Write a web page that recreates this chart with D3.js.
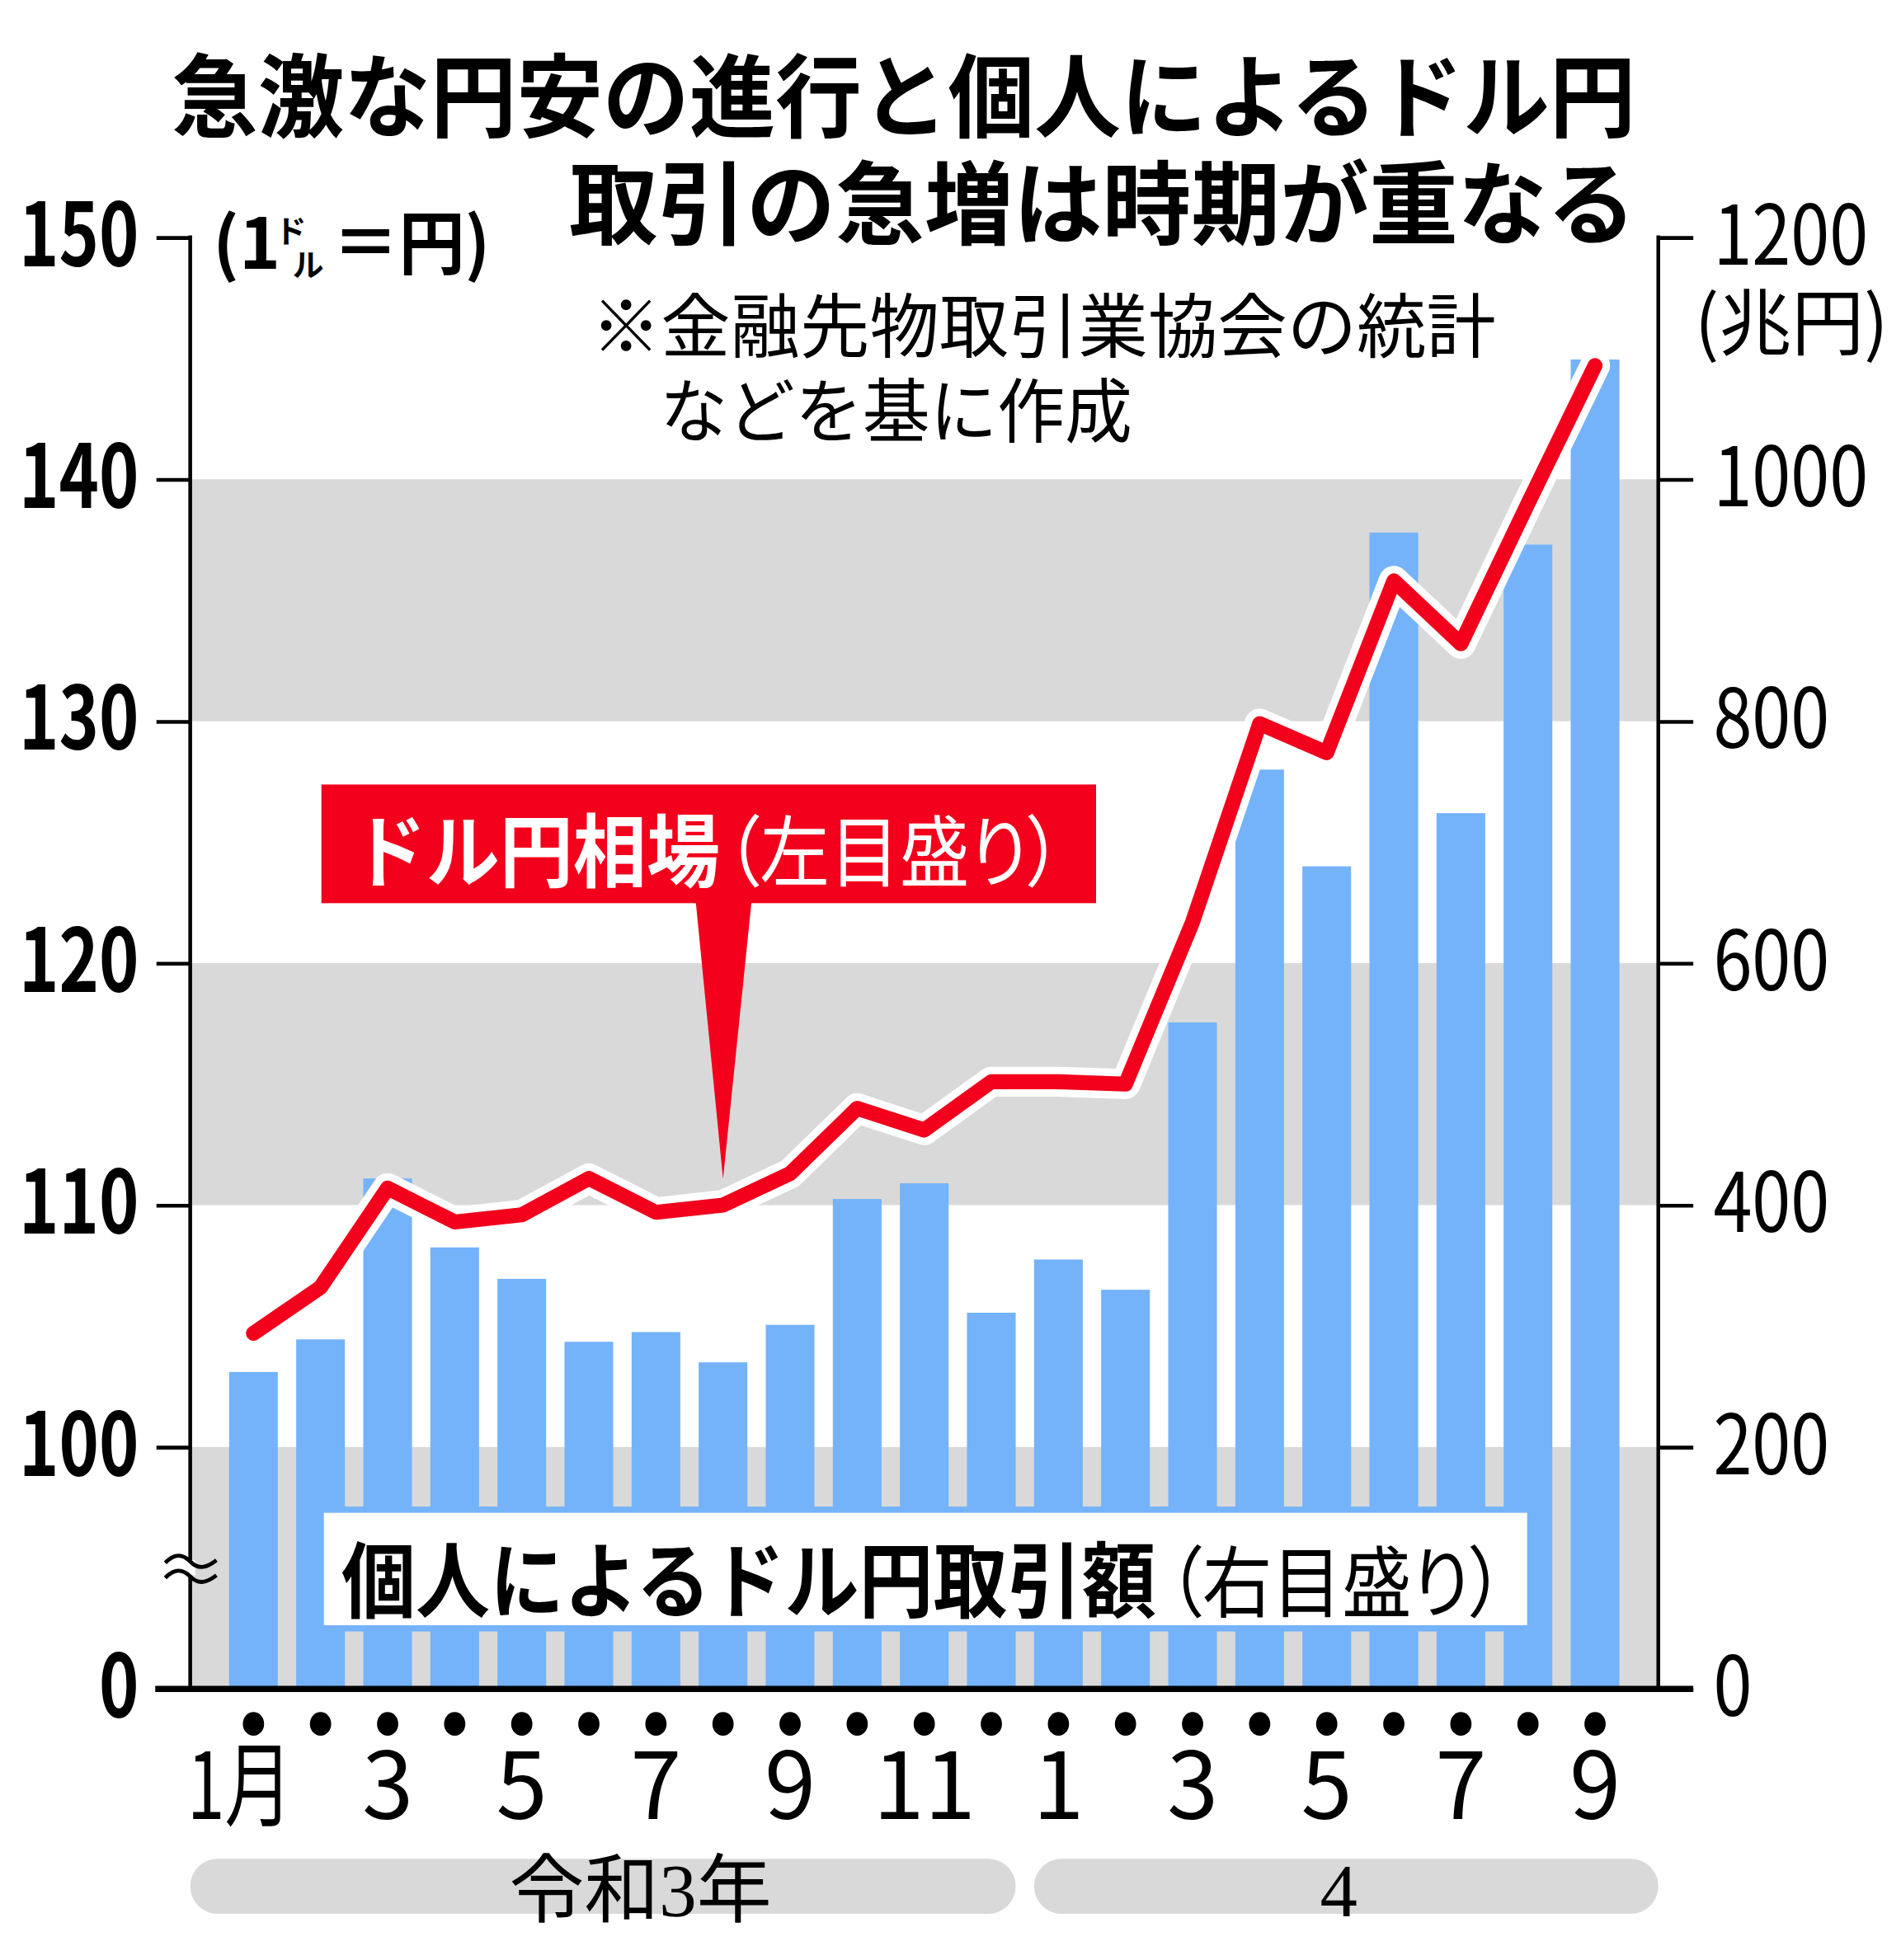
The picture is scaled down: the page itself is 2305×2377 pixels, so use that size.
<!DOCTYPE html>
<html lang="ja"><head>
<meta charset="utf-8">
<title>急激な円安の進行と個人によるドル円取引</title>
<script src="https://cdnjs.cloudflare.com/ajax/libs/d3/7.8.5/d3.min.js"></script>
<style>
  html, body { margin: 0; padding: 0; background: #fff; }
  svg { display: block; }
  .jp { font-family: "Noto Sans CJK JP", sans-serif; }
  .num { font-family: "Liberation Sans Narrow", "Noto Sans CJK JP", sans-serif; }
  .serif { font-family: "Liberation Serif", "Noto Sans CJK JP", serif; }
</style>
</head>
<body>
<svg id="chart"></svg>
<script>

// data
var monthLabels = ["1月","","3","","5","","7","","9","","11","","1","","3","","5","","7","","9"];
// ドル円相場, month-end (yen per dollar, left axis)
var yenRate = [104.7, 106.6, 110.7, 109.3, 109.6, 111.1, 109.7, 110.0, 111.3, 114.0, 113.1,
               115.1, 115.1, 115.0, 121.7, 129.9, 128.7, 135.8, 133.2, 139.0, 144.7];
// 個人によるドル円取引額 (trillion yen, right axis)
var volume = [262, 289, 422, 365, 339, 287, 295, 270, 301, 405, 418,
              311, 355, 330, 551, 760, 680, 956, 724, 946, 1099];
var leftTicks = [150, 140, 130, 120, 110, 100, 90];
var leftTickLabels = ["150", "140", "130", "120", "110", "100", "0"];
var rightTicks = [1200, 1000, 800, 600, 400, 200, 0];
var grayBands = [[130, 140], [110, 120], [90, 100]];
var yearLabels = ["令和3年", "4"];
var yearSpans = [[0, 11], [12, 20]];

var W = 1521, H = 1569;
// plot frame (window.top is reserved, so prefix these)
var pLeft = 152, pRight = 1327, pTop = 190, pBottom = 1352;
var red = "#f2001c", blue = "#74b3fa", gray = "#d9d9d9";

var svg = d3.select("#chart")
    .attr("width", 2305).attr("height", 2377)
    .attr("viewBox", "0 0 " + W + " " + H);

var x = d3.scaleBand().domain(d3.range(volume.length))
    .range([pLeft, pRight]).paddingInner(0.274).paddingOuter(0.58);
var cx = function(i) { return x(i) + x.bandwidth() / 2; };
var yL = d3.scaleLinear().domain([90, 150]).range([pBottom, pTop]);
var yR = d3.scaleLinear().domain([0, 1200]).range([pBottom, pTop]);

// gray bands
svg.append("g").selectAll("rect").data(grayBands).enter().append("rect")
    .attr("x", pLeft).attr("width", pRight - pLeft)
    .attr("y", function(d) { return yL(d[1]); })
    .attr("height", function(d) { return yL(d[0]) - yL(d[1]); })
    .attr("fill", gray);

// bars
svg.append("g").selectAll("rect").data(volume).enter().append("rect")
    .attr("x", function(d, i) { return x(i); })
    .attr("width", x.bandwidth())
    .attr("y", function(d) { return yR(d); })
    .attr("height", function(d) { return yR(0) - yR(d); })
    .attr("fill", blue);

// label box for bars
var bx = 259, by = 1211, bw = 963, bh = 90;
svg.append("rect").attr("x", bx - 5).attr("y", by - 5).attr("width", bw + 10).attr("height", bh + 10).attr("fill", blue);
svg.append("rect").attr("x", bx).attr("y", by).attr("width", bw).attr("height", bh).attr("fill", "#fff");
svg.append("text").attr("class", "jp").attr("x", 273).attr("y", 1290)
    .attr("font-size", 66).attr("font-weight", 700)
    .attr("textLength", 652).attr("lengthAdjust", "spacingAndGlyphs")
    .text("個人によるドル円取引額");
svg.append("text").attr("class", "jp").attr("x", 934).attr("y", 1290)
    .attr("font-size", 62).attr("font-weight", 400)
    .style("font-feature-settings", "'palt'")
    .attr("textLength", 270).attr("lengthAdjust", "spacingAndGlyphs")
    .text("（右目盛り）");

// yen line with white halo
var line = d3.line().x(function(d, i) { return cx(i); }).y(function(d) { return yL(d); });
svg.append("path").datum(yenRate).attr("d", line)
    .attr("fill", "none").attr("stroke", "#fff").attr("stroke-width", 24)
    .attr("stroke-linejoin", "round").attr("stroke-linecap", "round");
svg.append("path").datum(yenRate).attr("d", line)
    .attr("fill", "none").attr("stroke", red).attr("stroke-width", 12)
    .attr("stroke-linejoin", "round").attr("stroke-linecap", "round");

// callout for the line
var tipX = cx(7), tipY = yL(yenRate[7]) - 21;
svg.append("path")
    .attr("d", "M" + (tipX - 22) + ",720L" + (tipX + 23) + ",720L" + tipX + "," + tipY + "Z")
    .attr("fill", red);
svg.append("rect").attr("x", 257).attr("y", 628).attr("width", 620).attr("height", 95).attr("fill", red);
svg.append("text").attr("class", "jp").attr("x", 282).attr("y", 705)
    .attr("font-size", 64).attr("font-weight", 700).attr("fill", "#fff")
    .attr("textLength", 294).attr("lengthAdjust", "spacingAndGlyphs")
    .text("ドル円相場");
svg.append("text").attr("class", "jp").attr("x", 580).attr("y", 705)
    .attr("font-size", 62).attr("font-weight", 400).attr("fill", "#fff")
    .style("font-feature-settings", "'palt'")
    .attr("textLength", 270).attr("lengthAdjust", "spacingAndGlyphs")
    .text("（左目盛り）");

// axes
var axL = svg.append("g").attr("transform", "translate(" + pLeft + ",0)")
    .call(d3.axisLeft(yL).tickValues(leftTicks)
        .tickFormat(function(d, i) { return leftTickLabels[i]; })
        .tickSize(27).tickPadding(14));
var axR = svg.append("g").attr("transform", "translate(" + pRight + ",0)")
    .call(d3.axisRight(yR).tickValues(rightTicks).tickFormat(d3.format("d"))
        .tickSize(28).tickPadding(16));
[axL, axR].forEach(function(g) {
    g.select(".domain").remove();
    g.selectAll(".tick line").attr("stroke", "#000").attr("stroke-width", 3);
    g.selectAll(".tick text").attr("class", "num").attr("fill", "#000")
        .attr("lengthAdjust", "spacingAndGlyphs");
});
axL.selectAll(".tick text").attr("font-size", 70).attr("font-weight", 700)
    .attr("textLength", function() { return this.textContent.length * 32; });
axR.selectAll(".tick text").attr("font-size", 66).attr("font-weight", 400)
    .attr("textLength", function() { return this.textContent.length * 31; });

svg.append("line").attr("x1", pLeft).attr("x2", pLeft).attr("y1", pTop - 1.5).attr("y2", pBottom)
    .attr("stroke", "#000").attr("stroke-width", 3);
svg.append("line").attr("x1", pRight).attr("x2", pRight).attr("y1", pTop - 1.5).attr("y2", pBottom)
    .attr("stroke", "#000").attr("stroke-width", 3);
svg.append("line").attr("x1", pLeft - 28).attr("x2", pRight + 28).attr("y1", pBottom).attr("y2", pBottom)
    .attr("stroke", "#000").attr("stroke-width", 5);

// axis break mark
var brk = svg.append("g");
brk.append("rect").attr("x", pLeft - 4).attr("y", 1249).attr("width", 8).attr("height", 12).attr("fill", "#fff");
[1250, 1262].forEach(function(yy) {
    brk.append("path")
        .attr("d", "M132," + (yy + 1) + "C140," + (yy - 7) + " 146," + (yy - 6) + " 152," + yy +
                   "S164," + (yy + 6) + " 173," + (yy - 1))
        .attr("fill", "none").attr("stroke", "#000").attr("stroke-width", 3.2);
});

// month dots and labels
svg.append("g").selectAll("ellipse").data(volume).enter().append("ellipse")
    .attr("cx", function(d, i) { return cx(i); }).attr("cy", 1380)
    .attr("rx", 8.5).attr("ry", 9.5).attr("fill", "#000");
svg.append("g").selectAll("text").data(monthLabels).enter().append("text")
    .attr("class", "num")
    .attr("x", function(d, i) { return d === "1月" ? cx(i) - 11 : cx(i); })
    .attr("y", 1456).attr("text-anchor", "middle").attr("font-size", 74)
    .each(function(d) { if (d === "1月") d3.select(this).attr("textLength", 84).attr("lengthAdjust", "spacingAndGlyphs"); })
    .text(function(d) { return d; });

// year pills
yearSpans.forEach(function(s, k) {
    var x0 = k === 0 ? pLeft : x(s[0]);
    var x1 = k === 0 ? x(s[1]) + x.bandwidth() : pRight;
    svg.append("rect").attr("x", x0).attr("y", 1488).attr("width", x1 - x0).attr("height", 44)
        .attr("rx", 22).attr("fill", gray);
    svg.append("text").attr("class", "serif")
        .attr("x", (x0 + x1) / 2 + (k === 0 ? 30 : -6)).attr("y", 1534)
        .attr("text-anchor", "middle").attr("font-size", 60)
        .text(yearLabels[k]);
});

// titles and notes
svg.append("text").attr("class", "jp").attr("x", 137).attr("y", 104)
    .attr("font-size", 73).attr("font-weight", 700)
    .attr("textLength", 1172).attr("lengthAdjust", "spacingAndGlyphs")
    .text("急激な円安の進行と個人によるドル円");
svg.append("text").attr("class", "jp").attr("x", 455).attr("y", 190)
    .attr("font-size", 73).attr("font-weight", 700)
    .attr("textLength", 854).attr("lengthAdjust", "spacingAndGlyphs")
    .text("取引の急増は時期が重なる");

svg.append("text").attr("class", "jp").attr("x", 473).attr("y", 282)
    .attr("font-size", 56).attr("font-weight", 400)
    .attr("textLength", 724).attr("lengthAdjust", "spacingAndGlyphs")
    .text("※金融先物取引業協会の統計");
svg.append("text").attr("class", "jp").attr("x", 528).attr("y", 350)
    .attr("font-size", 56).attr("font-weight", 400)
    .attr("textLength", 378).attr("lengthAdjust", "spacingAndGlyphs")
    .text("などを基に作成");

// unit labels
var uL = svg.append("text").attr("class", "jp").attr("font-weight", 700).attr("y", 215);
uL.append("tspan").attr("x", 170).attr("font-size", 56).text("(1");
uL.append("tspan").attr("x", 220).attr("y", 194).attr("font-size", 25).text("ド");
uL.append("tspan").attr("x", 234).attr("y", 221).attr("font-size", 25).text("ル");
svg.append("text").attr("class", "jp").attr("font-weight", 700)
    .attr("x", 266).attr("y", 215).attr("font-size", 56)
    .attr("textLength", 126).attr("lengthAdjust", "spacingAndGlyphs")
    .text("＝円)");

svg.append("text").attr("class", "jp").attr("x", 1356).attr("y", 279)
    .attr("font-size", 58).attr("font-weight", 400)
    .text("(兆円)");

</script>
</body></html>
